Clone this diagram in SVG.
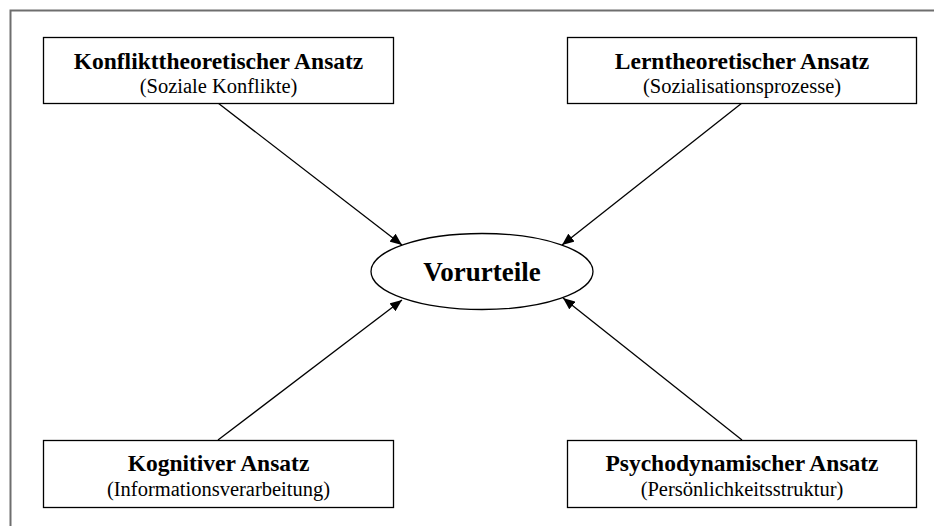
<svg xmlns="http://www.w3.org/2000/svg" width="934" height="526" viewBox="0 0 934 526">
  <style>
    .box { fill: #ffffff; stroke: #000000; stroke-width: 1.3; }
    .title { font-family: "Liberation Serif", "Times New Roman", serif; font-weight: bold; font-size: 23.5px; text-anchor: middle; fill: #000000; }
    .sub { font-family: "Liberation Serif", "Times New Roman", serif; font-size: 20.5px; text-anchor: middle; fill: #000000; }
    .center { font-family: "Liberation Serif", "Times New Roman", serif; font-weight: bold; font-size: 27px; text-anchor: middle; fill: #000000; }
    .link { stroke: #000000; stroke-width: 1.3; fill: none; marker-end: url(#arrow); }
  </style>
  <defs>
    <marker id="arrow" viewBox="0 0 12 10" refX="12" refY="5" markerWidth="12" markerHeight="10" markerUnits="userSpaceOnUse" orient="auto">
      <path d="M0,0 L12,5 L0,10 Z" fill="#000000"/>
    </marker>
  </defs>
  <rect x="0" y="0" width="934" height="526" fill="#ffffff"/>
  <!-- outer frame -->
  <path d="M10.5,540 V10.5 H950" fill="none" stroke="#6e6e6e" stroke-width="2"/>

  <g id="connectors">
    <line class="link" x1="218" y1="103" x2="402" y2="245"/>
    <line class="link" x1="742" y1="103" x2="562" y2="245"/>
    <line class="link" x1="218" y1="440" x2="402" y2="300"/>
    <line class="link" x1="742" y1="440" x2="563" y2="298"/>
  </g>

  <g id="konflikt">
    <rect class="box" x="43.5" y="37.5" width="350" height="66"/>
    <text class="title" x="218.5" y="69">Konflikttheoretischer Ansatz</text>
    <text class="sub" x="218.5" y="93">(Soziale Konflikte)</text>
  </g>

  <g id="lern">
    <rect class="box" x="567.5" y="37.5" width="349" height="66"/>
    <text class="title" x="742" y="69">Lerntheoretischer Ansatz</text>
    <text class="sub" x="742" y="93">(Sozialisationsprozesse)</text>
  </g>

  <g id="kognitiv">
    <rect class="box" x="43.5" y="440.5" width="350" height="67"/>
    <text class="title" x="218.5" y="471">Kognitiver Ansatz</text>
    <text class="sub" x="218.5" y="496">(Informationsverarbeitung)</text>
  </g>

  <g id="psychodynamisch">
    <rect class="box" x="567.5" y="440.5" width="349" height="67"/>
    <text class="title" x="742" y="471">Psychodynamischer Ansatz</text>
    <text class="sub" x="742" y="496">(Persönlichkeitsstruktur)</text>
  </g>

  <g id="vorurteile">
    <ellipse class="box" cx="482" cy="271.5" rx="111" ry="38"/>
    <text class="center" x="482" y="281">Vorurteile</text>
  </g>
</svg>
